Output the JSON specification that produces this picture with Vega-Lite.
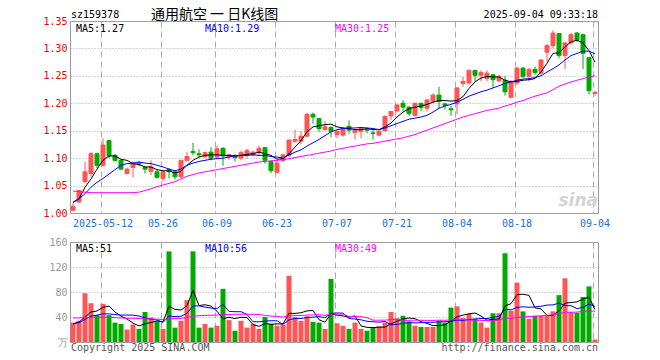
{
  "$schema": "https://vega.github.io/schema/vega-lite/v6.json",
  "background": "white",
  "padding": {"left": 42, "top": 7, "right": 10, "bottom": 5},
  "bounds": "flush",
  "spacing": 29,
  "config": {
    "view": {"stroke": "#999999"},
    "axis": {"labelFont": "DejaVu Sans Mono", "labelFontSize": 10, "labelOverlap": false, "labelFlush": false, "ticks": false, "domain": false, "title": null},
    "text": {"font": "DejaVu Sans Mono", "fontSize": 10}
  },
  "datasets": {
    "k": [
      {"d":"2025-04-30","o":1.005,"h":1.018,"l":1.003,"c":1.012,"v":31,"m5":1.019,"m10":1.020,"m30":1.040,"vm5":29,"vm10":29,"vm30":38.5},
      {"d":"2025-05-06","o":1.020,"h":1.042,"l":1.018,"c":1.041,"v":34,"m5":1.026,"m10":1.026,"m30":1.039,"vm5":32,"vm10":31,"vm30":38.5},
      {"d":"2025-05-07","o":1.057,"h":1.093,"l":1.054,"c":1.075,"v":78,"m5":1.047,"m10":1.035,"m30":1.038,"vm5":40,"vm10":36,"vm30":39},
      {"d":"2025-05-08","o":1.072,"h":1.111,"l":1.066,"c":1.108,"v":62,"m5":1.062,"m10":1.047,"m30":1.037,"vm5":48,"vm10":41.6,"vm30":39.5},
      {"d":"2025-05-09","o":1.108,"h":1.110,"l":1.082,"c":1.087,"v":43,"m5":1.080,"m10":1.056,"m30":1.037,"vm5":49.6,"vm10":43,"vm30":39.5},
      {"d":"2025-05-12","o":1.087,"h":1.136,"l":1.085,"c":1.124,"v":61,"m5":1.096,"m10":1.063,"m30":1.037,"vm5":55.6,"vm10":45,"vm30":39.5},
      {"d":"2025-05-13","o":1.132,"h":1.133,"l":1.100,"c":1.104,"v":43,"m5":1.104,"m10":1.071,"m30":1.037,"vm5":57.4,"vm10":45,"vm30":39.5},
      {"d":"2025-05-14","o":1.105,"h":1.108,"l":1.094,"c":1.096,"v":31,"m5":1.104,"m10":1.079,"m30":1.037,"vm5":48,"vm10":44,"vm30":39},
      {"d":"2025-05-15","o":1.096,"h":1.098,"l":1.078,"c":1.080,"v":29,"m5":1.098,"m10":1.087,"m30":1.037,"vm5":41.4,"vm10":43,"vm30":38.5},
      {"d":"2025-05-16","o":1.072,"h":1.083,"l":1.070,"c":1.080,"v":20,"m5":1.096,"m10":1.090,"m30":1.037,"vm5":36.8,"vm10":43.2,"vm30":38},
      {"d":"2025-05-19","o":1.083,"h":1.094,"l":1.065,"c":1.091,"v":28,"m5":1.090,"m10":1.091,"m30":1.037,"vm5":30.2,"vm10":42.9,"vm30":38},
      {"d":"2025-05-20","o":1.091,"h":1.094,"l":1.086,"c":1.089,"v":21,"m5":1.088,"m10":1.093,"m30":1.038,"vm5":25.8,"vm10":41.6,"vm30":37.5},
      {"d":"2025-05-21","o":1.083,"h":1.085,"l":1.072,"c":1.080,"v":48,"m5":1.084,"m10":1.091,"m30":1.041,"vm5":29.2,"vm10":38.6,"vm30":37},
      {"d":"2025-05-22","o":1.076,"h":1.096,"l":1.069,"c":1.084,"v":39,"m5":1.084,"m10":1.090,"m30":1.044,"vm5":31.2,"vm10":36.3,"vm30":37},
      {"d":"2025-05-23","o":1.075,"h":1.080,"l":1.063,"c":1.065,"v":33,"m5":1.079,"m10":1.087,"m30":1.048,"vm5":33.8,"vm10":35.3,"vm30":36.5},
      {"d":"2025-05-26","o":1.063,"h":1.078,"l":1.058,"c":1.075,"v":21,"m5":1.077,"m10":1.084,"m30":1.051,"vm5":32.4,"vm10":31.3,"vm30":36},
      {"d":"2025-05-27","o":1.079,"h":1.082,"l":1.063,"c":1.075,"v":145,"m5":1.077,"m10":1.080,"m30":1.054,"vm5":57.2,"vm10":41.5,"vm30":37},
      {"d":"2025-05-28","o":1.075,"h":1.078,"l":1.061,"c":1.066,"v":23,"m5":1.073,"m10":1.077,"m30":1.057,"vm5":52.2,"vm10":40.7,"vm30":37.5},
      {"d":"2025-05-29","o":1.066,"h":1.097,"l":1.063,"c":1.096,"v":34,"m5":1.076,"m10":1.080,"m30":1.062,"vm5":51.2,"vm10":41.2,"vm30":38},
      {"d":"2025-05-30","o":1.096,"h":1.111,"l":1.094,"c":1.103,"v":67,"m5":1.087,"m10":1.087,"m30":1.067,"vm5":58,"vm10":45.9,"vm30":39},
      {"d":"2025-06-03","o":1.112,"h":1.128,"l":1.105,"c":1.110,"v":145,"m5":1.096,"m10":1.091,"m30":1.070,"vm5":82.8,"vm10":57.6,"vm30":41.5},
      {"d":"2025-06-04","o":1.108,"h":1.116,"l":1.102,"c":1.106,"v":23,"m5":1.102,"m10":1.094,"m30":1.073,"vm5":58.4,"vm10":57.8,"vm30":42},
      {"d":"2025-06-05","o":1.103,"h":1.112,"l":1.100,"c":1.110,"v":29,"m5":1.105,"m10":1.096,"m30":1.075,"vm5":59.6,"vm10":55.9,"vm30":42.5},
      {"d":"2025-06-06","o":1.111,"h":1.120,"l":1.096,"c":1.100,"v":23,"m5":1.106,"m10":1.098,"m30":1.077,"vm5":57.4,"vm10":54.3,"vm30":43},
      {"d":"2025-06-09","o":1.102,"h":1.123,"l":1.099,"c":1.117,"v":26,"m5":1.106,"m10":1.099,"m30":1.079,"vm5":49.2,"vm10":53.6,"vm30":43},
      {"d":"2025-06-10","o":1.118,"h":1.120,"l":1.086,"c":1.104,"v":85,"m5":1.105,"m10":1.100,"m30":1.081,"vm5":37.2,"vm10":60,"vm30":44},
      {"d":"2025-06-11","o":1.103,"h":1.108,"l":1.097,"c":1.106,"v":35,"m5":1.105,"m10":1.102,"m30":1.083,"vm5":39.6,"vm10":49,"vm30":44.2},
      {"d":"2025-06-12","o":1.105,"h":1.107,"l":1.094,"c":1.101,"v":18,"m5":1.104,"m10":1.104,"m30":1.085,"vm5":37.4,"vm10":48.5,"vm30":44.3},
      {"d":"2025-06-13","o":1.100,"h":1.114,"l":1.096,"c":1.110,"v":34,"m5":1.105,"m10":1.105,"m30":1.087,"vm5":39.6,"vm10":48.5,"vm30":44.4},
      {"d":"2025-06-16","o":1.105,"h":1.117,"l":1.100,"c":1.114,"v":23,"m5":1.107,"m10":1.105,"m30":1.089,"vm5":39,"vm10":44.1,"vm30":44.4},
      {"d":"2025-06-17","o":1.106,"h":1.114,"l":1.103,"c":1.111,"v":29,"m5":1.108,"m10":1.106,"m30":1.091,"vm5":27.8,"vm10":32.5,"vm30":44.3},
      {"d":"2025-06-18","o":1.110,"h":1.123,"l":1.105,"c":1.118,"v":21,"m5":1.111,"m10":1.105,"m30":1.093,"vm5":25,"vm10":32.3,"vm30":43.9},
      {"d":"2025-06-19","o":1.119,"h":1.121,"l":1.090,"c":1.096,"v":40,"m5":1.108,"m10":1.105,"m30":1.094,"vm5":29.4,"vm10":33.4,"vm30":42.6},
      {"d":"2025-06-20","o":1.094,"h":1.095,"l":1.073,"c":1.077,"v":29,"m5":1.105,"m10":1.103,"m30":1.095,"vm5":28.4,"vm10":34,"vm30":41.5},
      {"d":"2025-06-23","o":1.074,"h":1.096,"l":1.072,"c":1.091,"v":26,"m5":1.098,"m10":1.102,"m30":1.096,"vm5":29,"vm10":34,"vm30":41},
      {"d":"2025-06-24","o":1.096,"h":1.108,"l":1.093,"c":1.106,"v":28,"m5":1.099,"m10":1.100,"m30":1.097,"vm5":28.8,"vm10":28.3,"vm30":39.9},
      {"d":"2025-06-25","o":1.105,"h":1.134,"l":1.102,"c":1.133,"v":106,"m5":1.108,"m10":1.106,"m30":1.099,"vm5":45.8,"vm10":35.4,"vm30":42},
      {"d":"2025-06-26","o":1.131,"h":1.152,"l":1.128,"c":1.134,"v":40,"m5":1.120,"m10":1.111,"m30":1.101,"vm5":45.8,"vm10":37.6,"vm30":42.3},
      {"d":"2025-06-27","o":1.131,"h":1.149,"l":1.126,"c":1.140,"v":34,"m5":1.132,"m10":1.115,"m30":1.103,"vm5":46.8,"vm10":37.6,"vm30":42.4},
      {"d":"2025-06-30","o":1.140,"h":1.183,"l":1.138,"c":1.180,"v":41,"m5":1.148,"m10":1.122,"m30":1.105,"vm5":49.8,"vm10":39.4,"vm30":43.1},
      {"d":"2025-07-01","o":1.180,"h":1.183,"l":1.163,"c":1.175,"v":32,"m5":1.157,"m10":1.128,"m30":1.107,"vm5":50.6,"vm10":39.7,"vm30":43.3},
      {"d":"2025-07-02","o":1.172,"h":1.173,"l":1.148,"c":1.154,"v":31,"m5":1.159,"m10":1.134,"m30":1.109,"vm5":35.6,"vm10":40.7,"vm30":43.6},
      {"d":"2025-07-03","o":1.152,"h":1.167,"l":1.150,"c":1.157,"v":21,"m5":1.161,"m10":1.141,"m30":1.111,"vm5":31.8,"vm10":38.8,"vm30":42.7},
      {"d":"2025-07-04","o":1.156,"h":1.158,"l":1.138,"c":1.149,"v":101,"m5":1.162,"m10":1.148,"m30":1.113,"vm5":45.2,"vm10":46,"vm30":44.8},
      {"d":"2025-07-07","o":1.143,"h":1.152,"l":1.136,"c":1.149,"v":30,"m5":1.157,"m10":1.152,"m30":1.116,"vm5":43,"vm10":46.4,"vm30":44.7},
      {"d":"2025-07-08","o":1.142,"h":1.157,"l":1.139,"c":1.154,"v":26,"m5":1.155,"m10":1.154,"m30":1.118,"vm5":41.8,"vm10":46.2,"vm30":44.8},
      {"d":"2025-07-09","o":1.158,"h":1.169,"l":1.145,"c":1.151,"v":21,"m5":1.154,"m10":1.155,"m30":1.120,"vm5":39.8,"vm10":37.7,"vm30":40.7},
      {"d":"2025-07-10","o":1.147,"h":1.153,"l":1.134,"c":1.151,"v":31,"m5":1.152,"m10":1.155,"m30":1.122,"vm5":41.8,"vm10":36.8,"vm30":41},
      {"d":"2025-07-11","o":1.149,"h":1.157,"l":1.136,"c":1.154,"v":21,"m5":1.152,"m10":1.156,"m30":1.124,"vm5":25.8,"vm10":35.5,"vm30":40.5},
      {"d":"2025-07-14","o":1.153,"h":1.156,"l":1.145,"c":1.151,"v":18,"m5":1.154,"m10":1.155,"m30":1.126,"vm5":23.4,"vm10":33.2,"vm30":38.9},
      {"d":"2025-07-15","o":1.146,"h":1.151,"l":1.134,"c":1.145,"v":24,"m5":1.152,"m10":1.154,"m30":1.127,"vm5":23,"vm10":32.4,"vm30":34.9},
      {"d":"2025-07-16","o":1.142,"h":1.151,"l":1.140,"c":1.149,"v":25,"m5":1.152,"m10":1.152,"m30":1.129,"vm5":23.8,"vm10":31.8,"vm30":34.9},
      {"d":"2025-07-17","o":1.150,"h":1.178,"l":1.148,"c":1.176,"v":31,"m5":1.157,"m10":1.155,"m30":1.131,"vm5":23.8,"vm10":32.8,"vm30":35},
      {"d":"2025-07-18","o":1.177,"h":1.186,"l":1.170,"c":1.185,"v":48,"m5":1.164,"m10":1.159,"m30":1.133,"vm5":29.2,"vm10":27.5,"vm30":35.8},
      {"d":"2025-07-21","o":1.186,"h":1.198,"l":1.183,"c":1.197,"v":38,"m5":1.175,"m10":1.163,"m30":1.135,"vm5":33.2,"vm10":28.3,"vm30":36.2},
      {"d":"2025-07-22","o":1.200,"h":1.206,"l":1.186,"c":1.193,"v":42,"m5":1.184,"m10":1.167,"m30":1.137,"vm5":36.8,"vm10":29.9,"vm30":34.8},
      {"d":"2025-07-23","o":1.193,"h":1.194,"l":1.177,"c":1.181,"v":33,"m5":1.190,"m10":1.171,"m30":1.140,"vm5":38.4,"vm10":31.1,"vm30":34.7},
      {"d":"2025-07-24","o":1.178,"h":1.201,"l":1.176,"c":1.200,"v":26,"m5":1.193,"m10":1.173,"m30":1.143,"vm5":37.4,"vm10":30.6,"vm30":35},
      {"d":"2025-07-25","o":1.200,"h":1.201,"l":1.186,"c":1.192,"v":24,"m5":1.195,"m10":1.175,"m30":1.147,"vm5":32.6,"vm10":30.9,"vm30":34.7},
      {"d":"2025-07-28","o":1.191,"h":1.207,"l":1.185,"c":1.206,"v":24,"m5":1.198,"m10":1.178,"m30":1.151,"vm5":29.8,"vm10":31.5,"vm30":34.7},
      {"d":"2025-07-29","o":1.204,"h":1.218,"l":1.200,"c":1.215,"v":24,"m5":1.202,"m10":1.184,"m30":1.155,"vm5":26.2,"vm10":31.5,"vm30":34.5},
      {"d":"2025-07-30","o":1.215,"h":1.230,"l":1.191,"c":1.203,"v":34,"m5":1.205,"m10":1.191,"m30":1.159,"vm5":26.4,"vm10":32.4,"vm30":35},
      {"d":"2025-07-31","o":1.199,"h":1.200,"l":1.189,"c":1.196,"v":31,"m5":1.205,"m10":1.195,"m30":1.163,"vm5":27.4,"vm10":32.4,"vm30":34.7},
      {"d":"2025-08-01","o":1.190,"h":1.195,"l":1.177,"c":1.188,"v":55,"m5":1.204,"m10":1.198,"m30":1.167,"vm5":33.6,"vm10":33.1,"vm30":35.5},
      {"d":"2025-08-04","o":1.199,"h":1.229,"l":1.180,"c":1.228,"v":57,"m5":1.205,"m10":1.202,"m30":1.171,"vm5":40.2,"vm10":35,"vm30":36.6},
      {"d":"2025-08-05","o":1.236,"h":1.248,"l":1.230,"c":1.240,"v":38,"m5":1.212,"m10":1.207,"m30":1.175,"vm5":43,"vm10":34.6,"vm30":36.9},
      {"d":"2025-08-06","o":1.237,"h":1.262,"l":1.234,"c":1.260,"v":45,"m5":1.227,"m10":1.213,"m30":1.178,"vm5":45.2,"vm10":35.8,"vm30":34.9},
      {"d":"2025-08-07","o":1.260,"h":1.261,"l":1.240,"c":1.251,"v":37,"m5":1.239,"m10":1.217,"m30":1.181,"vm5":46.4,"vm10":36.9,"vm30":34.8},
      {"d":"2025-08-08","o":1.251,"h":1.260,"l":1.240,"c":1.256,"v":31,"m5":1.246,"m10":1.221,"m30":1.184,"vm5":41.6,"vm10":37.6,"vm30":34.7},
      {"d":"2025-08-11","o":1.245,"h":1.260,"l":1.240,"c":1.255,"v":23,"m5":1.249,"m10":1.224,"m30":1.187,"vm5":34.8,"vm10":37.5,"vm30":34.1},
      {"d":"2025-08-12","o":1.252,"h":1.253,"l":1.228,"c":1.243,"v":46,"m5":1.248,"m10":1.228,"m30":1.189,"vm5":36.4,"vm10":39.7,"vm30":34.5},
      {"d":"2025-08-13","o":1.241,"h":1.252,"l":1.238,"c":1.249,"v":46,"m5":1.248,"m10":1.232,"m30":1.191,"vm5":36.6,"vm10":40.9,"vm30":35},
      {"d":"2025-08-14","o":1.242,"h":1.250,"l":1.214,"c":1.221,"v":142,"m5":1.242,"m10":1.236,"m30":1.195,"vm5":57.6,"vm10":52,"vm30":39.1},
      {"d":"2025-08-15","o":1.211,"h":1.242,"l":1.209,"c":1.240,"v":50,"m5":1.239,"m10":1.239,"m30":1.198,"vm5":61.4,"vm10":51.5,"vm30":37.4},
      {"d":"2025-08-18","o":1.237,"h":1.266,"l":1.234,"c":1.264,"v":95,"m5":1.240,"m10":1.242,"m30":1.202,"vm5":75.8,"vm10":55.3,"vm30":39.5},
      {"d":"2025-08-19","o":1.264,"h":1.266,"l":1.246,"c":1.249,"v":49,"m5":1.242,"m10":1.244,"m30":1.205,"vm5":76.4,"vm10":56.4,"vm30":40.3},
      {"d":"2025-08-20","o":1.249,"h":1.264,"l":1.240,"c":1.262,"v":37,"m5":1.243,"m10":1.245,"m30":1.209,"vm5":74.6,"vm10":55.6,"vm30":40.8},
      {"d":"2025-08-21","o":1.262,"h":1.267,"l":1.252,"c":1.256,"v":42,"m5":1.245,"m10":1.247,"m30":1.213,"vm5":54.6,"vm10":56.1,"vm30":41.2},
      {"d":"2025-08-22","o":1.255,"h":1.280,"l":1.252,"c":1.279,"v":42,"m5":1.257,"m10":1.250,"m30":1.216,"vm5":53,"vm10":57.2,"vm30":41.9},
      {"d":"2025-08-25","o":1.293,"h":1.308,"l":1.276,"c":1.305,"v":42,"m5":1.273,"m10":1.257,"m30":1.219,"vm5":42.4,"vm10":59.1,"vm30":42.7},
      {"d":"2025-08-26","o":1.305,"h":1.333,"l":1.300,"c":1.328,"v":49,"m5":1.291,"m10":1.263,"m30":1.225,"vm5":42.4,"vm10":59.4,"vm30":43.5},
      {"d":"2025-08-27","o":1.327,"h":1.328,"l":1.282,"c":1.287,"v":75,"m5":1.292,"m10":1.270,"m30":1.231,"vm5":50,"vm10":62.3,"vm30":45.2},
      {"d":"2025-08-28","o":1.287,"h":1.312,"l":1.262,"c":1.310,"v":102,"m5":1.303,"m10":1.279,"m30":1.235,"vm5":62,"vm10":58.3,"vm30":47.6},
      {"d":"2025-08-29","o":1.310,"h":1.328,"l":1.307,"c":1.325,"v":48,"m5":1.312,"m10":1.287,"m30":1.239,"vm5":63.2,"vm10":58.1,"vm30":47.6},
      {"d":"2025-09-01","o":1.328,"h":1.330,"l":1.312,"c":1.315,"v":47,"m5":1.315,"m10":1.291,"m30":1.242,"vm5":64.2,"vm10":53.3,"vm30":47.9},
      {"d":"2025-09-02","o":1.325,"h":1.326,"l":1.262,"c":1.291,"v":72,"m5":1.310,"m10":1.295,"m30":1.245,"vm5":68.8,"vm10":55.6,"vm30":48.9},
      {"d":"2025-09-03","o":1.283,"h":1.285,"l":1.216,"c":1.223,"v":89,"m5":1.296,"m10":1.295,"m30":1.248,"vm5":71.6,"vm10":60.8,"vm30":49.8},
      {"d":"2025-09-04","o":1.218,"h":1.222,"l":1.214,"c":1.220,"v":4,"m5":1.275,"m10":1.290,"m30":1.250,"vm5":52,"vm10":57,"vm30":49.3}
    ]
  },
  "vconcat": [
    {
      "width": 528,
      "height": 192,
      "layer": [
        {
          "data": {"name": "k"},
          "mark": {"type": "rule", "strokeWidth": 1},
          "encoding": {
            "x": {
              "field": "d", "type": "ordinal",
              "scale": {"paddingInner": 0, "paddingOuter": 0},
              "axis": {
                "values": ["2025-05-12","2025-05-26","2025-06-09","2025-06-23","2025-07-07","2025-07-21","2025-08-04","2025-08-18","2025-09-04"],
                "labelExpr": "datum.value == '2025-05-12' ? datum.value : substring(datum.value, 5)",
                "labelColor": "#1a6fd0", "labelAngle": 0, "labelAlign": "center", "labelPadding": 5,
                "ticks": false, "domain": false, "grid": true,
                "gridColor": "#aaaaaa", "gridDash": [6, 4], "bandPosition": 0.1667,
                "title": null, "labelOverlap": false, "labelFlush": false
              }
            },
            "y": {
              "field": "l", "type": "quantitative",
              "scale": {"domain": [1.0, 1.35], "nice": false, "zero": false},
              "axis": {
                "values": [1.0, 1.05, 1.1, 1.15, 1.2, 1.25, 1.3, 1.35], "tickCount": 20,
                "format": ".2f", "labelColor": "#ee0000", "ticks": false, "domain": false,
                "grid": true, "gridColor": "#aaaaaa", "gridDash": [1, 2],
                "labelPadding": 3, "title": null, "labelOverlap": false, "labelFlush": false
              }
            },
            "y2": {"field": "h"},
            "color": {"condition": {"test": "datum.c >= datum.o", "value": "#ff5555"}, "value": "#00aa00"}
          }
        },
        {
          "data": {"name": "k"},
          "mark": {"type": "bar", "size": 4, "strokeWidth": 1},
          "encoding": {
            "x": {"field": "d", "type": "ordinal"},
            "y": {"field": "o", "type": "quantitative"},
            "y2": {"field": "c"},
            "fill": {"condition": {"test": "datum.c >= datum.o", "value": "#ff5555"}, "value": "#00aa00"},
            "stroke": {"condition": {"test": "datum.c >= datum.o", "value": "#ff5555"}, "value": "#00aa00"}
          }
        },
        {
          "data": {"name": "k"},
          "mark": {"type": "line", "strokeWidth": 1, "color": "#000000"},
          "encoding": {"x": {"field": "d", "type": "ordinal"}, "y": {"field": "m5", "type": "quantitative"}}
        },
        {
          "data": {"name": "k"},
          "mark": {"type": "line", "strokeWidth": 1, "color": "#0000ff"},
          "encoding": {"x": {"field": "d", "type": "ordinal"}, "y": {"field": "m10", "type": "quantitative"}}
        },
        {
          "data": {"name": "k"},
          "mark": {"type": "line", "strokeWidth": 1, "color": "#ff00ff"},
          "encoding": {"x": {"field": "d", "type": "ordinal"}, "y": {"field": "m30", "type": "quantitative"}}
        },
        {
          "data": {"values": [{}]},
          "mark": {"type": "text", "text": "MA5:1.27", "align": "left", "baseline": "alphabetic", "color": "#000000"},
          "encoding": {
            "x": {"datum": "2025-05-06", "type": "ordinal", "bandPosition": 0},
            "y": {"datum": 1.33, "type": "quantitative"}
          }
        },
        {
          "data": {"values": [{}]},
          "mark": {"type": "text", "text": "MA10:1.29", "align": "left", "baseline": "alphabetic", "color": "#0000ff"},
          "encoding": {
            "x": {"datum": "2025-06-05", "type": "ordinal", "bandPosition": 0.5},
            "y": {"datum": 1.33, "type": "quantitative"}
          }
        },
        {
          "data": {"values": [{}]},
          "mark": {"type": "text", "text": "MA30:1.25", "align": "left", "baseline": "alphabetic", "color": "#ff00ff"},
          "encoding": {
            "x": {"datum": "2025-07-07", "type": "ordinal", "bandPosition": 0.1667},
            "y": {"datum": 1.33, "type": "quantitative"}
          }
        },
        {
          "data": {"values": [{}]},
          "mark": {"type": "text", "text": "sz159378", "align": "left", "baseline": "alphabetic", "color": "#000000"},
          "encoding": {
            "x": {"datum": "2025-04-30", "type": "ordinal", "bandPosition": 0.1667},
            "y": {"datum": 1.3546, "type": "quantitative"}
          }
        },
        {
          "data": {"values": [{}]},
          "mark": {"type": "text", "text": "通用航空  一  日K线图", "align": "center", "baseline": "alphabetic", "color": "#000000", "font": "Noto Sans CJK SC", "fontSize": 14},
          "encoding": {
            "x": {"datum": "2025-06-09", "type": "ordinal", "bandPosition": 0.1},
            "y": {"datum": 1.3536, "type": "quantitative"}
          }
        },
        {
          "data": {"values": [{}]},
          "mark": {"type": "text", "text": "2025-09-04 09:33:18", "align": "right", "baseline": "alphabetic", "color": "#000000"},
          "encoding": {
            "x": {"datum": "2025-09-04", "type": "ordinal", "bandPosition": 1},
            "y": {"datum": 1.3546, "type": "quantitative"}
          }
        },
        {
          "data": {"values": [{}]},
          "mark": {"type": "text", "text": "sina", "align": "right", "baseline": "alphabetic", "color": "#d4d4d4", "font": "DejaVu Sans", "fontSize": 17, "fontStyle": "italic", "fontWeight": "bold"},
          "encoding": {
            "x": {"datum": "2025-09-04", "type": "ordinal", "bandPosition": 1},
            "y": {"datum": 1.013, "type": "quantitative"}
          }
        }
      ]
    },
    {
      "width": 528,
      "height": 100,
      "layer": [
        {
          "data": {"name": "k"},
          "mark": {"type": "bar", "size": 5},
          "encoding": {
            "x": {
              "field": "d", "type": "ordinal",
              "scale": {"paddingInner": 0, "paddingOuter": 0},
              "axis": {
                "values": ["2025-05-12","2025-05-26","2025-06-09","2025-06-23","2025-07-07","2025-07-21","2025-08-04","2025-08-18","2025-09-04"],
                "labels": false, "ticks": false, "domain": false, "grid": true,
                "gridColor": "#aaaaaa", "gridDash": [6, 4], "bandPosition": 0.1667, "title": null
              }
            },
            "y": {
              "field": "v", "type": "quantitative",
              "scale": {"domain": [0, 160], "nice": false},
              "axis": {
                "values": [0, 40, 80, 120, 160], "tickCount": 20,
                "labelExpr": "datum.value == 0 ? '万' : datum.label",
                "labelColor": "#999999", "ticks": false, "domain": false,
                "grid": true, "gridColor": "#aaaaaa", "gridDash": [1, 2],
                "labelPadding": 3, "title": null, "labelOverlap": false, "labelFlush": false
              }
            },
            "color": {"condition": {"test": "datum.c >= datum.o", "value": "#ff5555"}, "value": "#00aa00"}
          }
        },
        {
          "data": {"name": "k"},
          "mark": {"type": "line", "strokeWidth": 1, "color": "#000000"},
          "encoding": {"x": {"field": "d", "type": "ordinal"}, "y": {"field": "vm5", "type": "quantitative"}}
        },
        {
          "data": {"name": "k"},
          "mark": {"type": "line", "strokeWidth": 1, "color": "#0000ff"},
          "encoding": {"x": {"field": "d", "type": "ordinal"}, "y": {"field": "vm10", "type": "quantitative"}}
        },
        {
          "data": {"name": "k"},
          "mark": {"type": "line", "strokeWidth": 1, "color": "#ff00ff"},
          "encoding": {"x": {"field": "d", "type": "ordinal"}, "y": {"field": "vm30", "type": "quantitative"}}
        },
        {
          "data": {"values": [{}]},
          "mark": {"type": "text", "text": "MA5:51", "align": "left", "baseline": "alphabetic", "color": "#000000"},
          "encoding": {
            "x": {"datum": "2025-05-06", "type": "ordinal", "bandPosition": 0},
            "y": {"datum": 144, "type": "quantitative"}
          }
        },
        {
          "data": {"values": [{}]},
          "mark": {"type": "text", "text": "MA10:56", "align": "left", "baseline": "alphabetic", "color": "#0000ff"},
          "encoding": {
            "x": {"datum": "2025-06-05", "type": "ordinal", "bandPosition": 0.5},
            "y": {"datum": 144, "type": "quantitative"}
          }
        },
        {
          "data": {"values": [{}]},
          "mark": {"type": "text", "text": "MA30:49", "align": "left", "baseline": "alphabetic", "color": "#ff00ff"},
          "encoding": {
            "x": {"datum": "2025-07-07", "type": "ordinal", "bandPosition": 0.1667},
            "y": {"datum": 144, "type": "quantitative"}
          }
        },
        {
          "data": {"values": [{}]},
          "mark": {"type": "text", "text": "Copyright 2025 SINA.COM", "align": "left", "baseline": "alphabetic", "color": "#555555"},
          "encoding": {
            "x": {"datum": "2025-04-30", "type": "ordinal", "bandPosition": 0.1667},
            "y": {"datum": -15, "type": "quantitative"}
          }
        },
        {
          "data": {"values": [{}]},
          "mark": {"type": "text", "text": "http://finance.sina.com.cn", "align": "right", "baseline": "alphabetic", "color": "#555555"},
          "encoding": {
            "x": {"datum": "2025-09-04", "type": "ordinal", "bandPosition": 1},
            "y": {"datum": -15, "type": "quantitative"}
          }
        }
      ]
    }
  ]
}
